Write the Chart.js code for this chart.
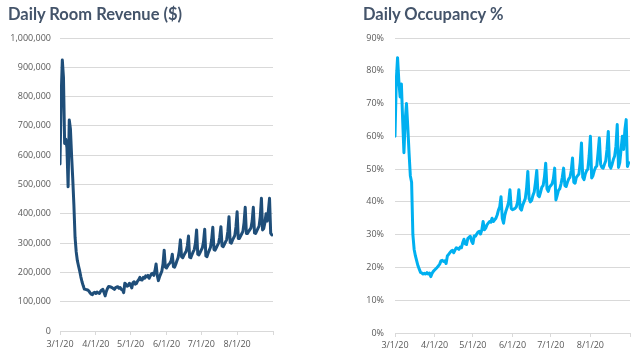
<!DOCTYPE html>
<html><head><meta charset="utf-8">
<script src="https://cdn.jsdelivr.net/npm/chart.js@4/dist/chart.umd.min.js"></script>
<style>
html,body{margin:0;padding:0;background:#fff;width:640px;height:361px;overflow:hidden;}
.panel{position:absolute;top:0;width:320px;height:361px;}
.title{position:absolute;top:4px;font:bold 16.5px Lato,"Open Sans",sans-serif;line-height:20px;color:#44546A;white-space:nowrap;}
</style></head><body>
<div class="panel" style="left:0"><canvas id="rev" width="320" height="361"></canvas></div>
<div class="panel" style="left:320px"><canvas id="occ" width="320" height="361"></canvas></div>
<div class="title" style="left:8px">Daily Room Revenue ($)</div>
<div class="title" style="left:363px">Daily Occupancy %</div>
<script>
// day index 0 = 3/1/20 ... 183 = 8/31/20
const monthTickDays = [0, 31, 61, 92, 122, 153, 184];
const monthTickLabels = ['3/1/20', '4/1/20', '5/1/20', '6/1/20', '7/1/20', '8/1/20', ''];
const revenueTicks = [0, 100000, 200000, 300000, 400000, 500000, 600000, 700000, 800000, 900000, 1000000];
const occupancyTicks = [0, 10, 20, 30, 40, 50, 60, 70, 80, 90];

const revenue = [
  570000, 800000, 925000, 865000, 640000, 655000, 625000,
  492000, 720000, 690000, 600000, 520000, 430000, 320000,
  270000, 240000, 222000, 205000, 185000, 168000, 155000,
  143000, 142000, 141000, 140000, 136000, 130000, 126000,
  124000, 130000, 132000, 128000, 133000, 130000, 128000,
  135000, 140000, 142000, 132000, 120000, 135000, 145000,
  152000, 151000, 150000, 148000, 145000, 142000, 148000,
  150000, 151000, 146000, 148000, 142000, 140000, 131000,
  163000, 160000, 153000, 155000, 163000, 158000, 147000,
  165000, 168000, 160000, 162000, 170000, 175000, 183000,
  175000, 174000, 183000, 180000, 188000, 185000, 190000,
  180000, 188000, 195000, 197000, 190000, 205000, 229000,
  190000, 172000, 185000, 195000, 205000, 230000, 276000,
  218000, 215000, 222000, 228000, 232000, 240000, 262000,
  220000, 218000, 228000, 240000, 250000, 272000, 311000,
  254000, 250000, 258000, 266000, 272000, 290000, 324000,
  252000, 250000, 260000, 270000, 278000, 300000, 345000,
  262000, 260000, 268000, 276000, 284000, 305000, 347000,
  256000, 254000, 266000, 276000, 286000, 312000, 354000,
  278000, 276000, 284000, 292000, 300000, 320000, 356000,
  290000, 288000, 296000, 304000, 312000, 340000, 390000,
  302000, 300000, 310000, 318000, 326000, 355000, 407000,
  316000, 316000, 324000, 332000, 340000, 370000, 422000,
  333000, 333000, 340000, 346000, 352000, 375000, 422000,
  335000, 333000, 342000, 350000, 358000, 390000, 453000,
  345000, 350000, 370000, 400000, 375000, 410000, 453000,
  334000, 328000
];

const occupancy = [
  60, 77, 84, 77, 72, 76, 65,
  55, 65, 70, 63, 55, 48, 46,
  30, 25.5, 23.5, 22, 20.5, 19.5, 18.5,
  18.3, 18, 18.2, 18, 18.4, 18, 18.3,
  17.2, 18.2, 18.8, 19.2, 19.6, 20, 20.5,
  21, 22, 22.2, 21.8, 22, 21.2, 23.5,
  24, 24.5, 25, 25.2, 24.5, 25.3, 26,
  25.8, 25.5, 26.2, 26, 27.5, 28.6, 27.2,
  27, 28.8, 29.2, 29.5, 28, 27.3, 29.6,
  29.5, 30.2, 30.8, 31, 30.2, 31.5, 34,
  31.5, 32, 33, 33.5, 34, 33.8, 35,
  34, 34.5, 35, 36, 37.5, 38.5, 41.6,
  35, 33.5, 36, 37.4, 38.5, 40, 43.7,
  38, 37.6, 37.8, 38, 38.5, 40, 43.7,
  38, 37.5, 39, 40, 41, 44, 49.3,
  41, 40, 40.5, 42, 43, 46, 49.6,
  42, 41.6, 43, 44.5, 45, 47.5, 51.8,
  44, 43.2, 44.5, 45, 45.5, 47, 50.3,
  40.6, 42, 43.5, 44, 45.5, 47.5, 50.3,
  45, 44.7, 46, 47, 47.5, 49.5, 53.4,
  46, 45.7, 47.5, 48, 48.5, 52, 58,
  47.5, 46.8, 48.5, 49.5, 50, 54, 60,
  47.3, 48, 49.5, 50.5, 51, 55, 59.5,
  51.5, 50.5, 50.3, 51.5, 52.5, 56, 61.5,
  51, 50.3, 51.5, 53, 54, 57, 63.6,
  50.5, 52, 56, 60, 56, 62, 65.1,
  50.8, 52
];

const TICK_FONT = { family: '"Open Sans", sans-serif', size: 9 };
const TICK_COLOR = '#595959';
const GRID_COLOR = '#D9D9D9';

function makeChart(id, values, color, yTicks, yFmt, yWidth, yPad, xHeight, padRight, xPad) {
  return new Chart(document.getElementById(id), {
    type: 'line',
    data: {
      datasets: [{
        data: values.map((v, i) => ({ x: i, y: v })),
        borderColor: color,
        borderWidth: 3,
        pointRadius: 0,
        tension: 0,
        borderJoinStyle: 'round',
        borderCapStyle: 'round',
        fill: false
      }]
    },
    options: {
      responsive: false,
      animation: false,
      layout: { padding: { top: 38, right: padRight, bottom: 0, left: 0 } },
      plugins: { legend: { display: false }, tooltip: { enabled: false }, title: { display: false } },
      scales: {
        x: {
          type: 'linear',
          min: monthTickDays[0],
          max: monthTickDays[monthTickDays.length - 1],
          afterBuildTicks: s => { s.ticks = monthTickDays.map(v => ({ value: v })); },
          afterFit: s => { s.height = xHeight; },
          ticks: {
            autoSkip: false, maxRotation: 0, padding: xPad,
            color: TICK_COLOR, font: TICK_FONT,
            callback: (v, i) => monthTickLabels[i]
          },
          grid: { drawOnChartArea: false, drawTicks: true, tickLength: 4, color: GRID_COLOR, lineWidth: 1 },
          border: { display: true, color: GRID_COLOR, width: 1 }
        },
        y: {
          min: yTicks[0],
          max: yTicks[yTicks.length - 1],
          afterBuildTicks: s => { s.ticks = yTicks.map(v => ({ value: v })); },
          afterFit: s => { s.width = yWidth; },
          ticks: { padding: yPad, color: TICK_COLOR, font: TICK_FONT, callback: yFmt },
          grid: { drawTicks: false, color: GRID_COLOR, lineWidth: 1 },
          border: { display: false }
        }
      }
    }
  });
}

makeChart('rev', revenue, '#1F4E79', revenueTicks,
  v => v.toLocaleString('en-US'), 60, 9, 30, 47, 4);
makeChart('occ', occupancy, '#00B0F0', occupancyTicks,
  v => v + '%', 75, 11, 28, 10, 3);
</script>
</body></html>
